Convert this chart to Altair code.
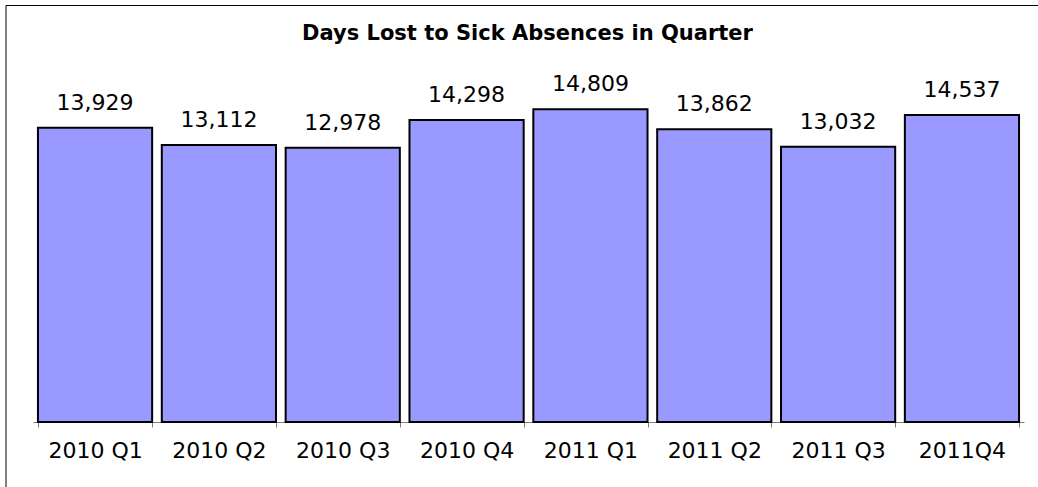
import altair as alt
import pandas as pd

quarters = ["2010 Q1", "2010 Q2", "2010 Q3", "2010 Q4", "2011 Q1", "2011 Q2", "2011 Q3", "2011Q4"]
days = [13929, 13112, 12978, 14298, 14809, 13862, 13032, 14537]
title_text = ["Days Lost to Sick Absences in Quarter"]

df = pd.DataFrame({"quarter": quarters, "days": days})
tdf = pd.DataFrame({"t": title_text})

W, H = 991, 338
FONT = "DejaVu Sans"

x_enc = alt.X(
    "quarter:N",
    sort=quarters,
    scale=alt.Scale(paddingInner=0.078, paddingOuter=0.04),
    axis=alt.Axis(
        title=None,
        labelAngle=0,
        tickBand="extent",
        labelFont=FONT,
        labelFontSize=22,
        labelColor="black",
        labelBaseline="alphabetic",
        labelPadding=30,
        tickSize=5,
        tickColor="#808080",
        domainColor="#808080",
        domainWidth=1,
        grid=False,
    ),
)
y_enc = alt.Y("days:Q", scale=alt.Scale(domain=[0, 16000]), axis=None)

base = alt.Chart(df).encode(x=x_enc, y=y_enc)

bars = base.mark_bar(color="#9999FF", stroke="black", strokeWidth=2)
labels = base.mark_text(
    font=FONT, fontSize=22, color="black", baseline="alphabetic", dy=-18
).encode(text=alt.Text("days:Q", format=",d"))

title = alt.Chart(tdf).mark_text(
    font=FONT, fontSize=21, fontWeight="bold", color="black", baseline="alphabetic", align="center"
).encode(text="t:N", x=alt.value(W / 2 - 1), y=alt.value(-44))

frame = alt.Chart(tdf).mark_rect(fill=None, stroke="black", strokeWidth=1).encode(
    x=alt.value(-27), y=alt.value(-78.5), x2=alt.value(1050), y2=alt.value(500)
)

chart = (
    alt.layer(frame, bars, labels, title)
    .properties(
        width=W,
        height=H,
        autosize=alt.AutoSizeParams(type="none"),
        padding={"left": 33, "top": 84, "right": 14, "bottom": 65},
        background="white",
    )
    .configure_view(stroke=None)
)

chart.save("out.html", embed_options={"renderer": "svg", "actions": False})
